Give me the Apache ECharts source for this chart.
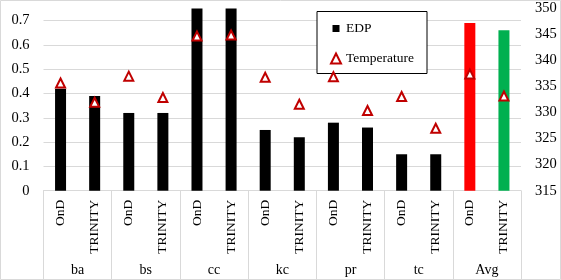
<!DOCTYPE html>
<html>
<head>
<meta charset="utf-8">
<script src="https://cdn.jsdelivr.net/npm/echarts@6/dist/echarts.min.js"></script>
<style>
html,body{margin:0;padding:0;background:#fff;}
#chart{width:561px;height:280px;}
</style>
</head>
<body>
<div id="chart"></div>
<script>
var groups = ['ba', 'bs', 'cc', 'kc', 'pr', 'tc', 'Avg'];
var methods = ['OnD', 'TRINITY'];
var edp = [0.42, 0.39, 0.32, 0.32, 0.85, 0.85, 0.25, 0.22, 0.28, 0.26, 0.15, 0.15, 0.69, 0.66];
var temperature = [335.7, 332.0, 337.0, 332.9, 344.7, 344.9, 336.8, 331.6, 336.9, 330.4, 333.1, 327.0, 337.4, 333.2];
var edpTicks = [0, 0.75, 0.1];
var tempTicks = [315, 350, 5];

var categories = [];
groups.forEach(function (g) { methods.forEach(function (m) { categories.push(m); }); });

var barColors = {Avg: ['#ff0000', '#00b050']};
var edpData = edp.map(function (v, i) {
  var g = groups[Math.floor(i / 2)];
  var c = barColors[g] ? barColors[g][i % 2] : '#000000';
  return {value: v, itemStyle: {color: c}};
});

var FONT = '"Liberation Serif", "Times New Roman", serif';
var chart = echarts.init(document.getElementById('chart'), null, {renderer: 'canvas'});
chart.setOption({
  animation: false,
  backgroundColor: '#ffffff',
  textStyle: {fontFamily: FONT, color: '#000'},
  grid: {left: 43.5, right: 40, top: 8.5, bottom: 89.3, containLabel: false},
  legend: {
    orient: 'vertical',
    left: 317,
    top: 11.5,
    padding: [10, 13, 8, 13],
    itemGap: 16,
    itemWidth: 10,
    itemHeight: 10,
    borderColor: '#000',
    borderWidth: 1,
    backgroundColor: '#fff',
    textStyle: {fontFamily: FONT, fontSize: 13.5, color: '#000'},
    data: [
      {name: 'EDP', icon: 'path://M0,0M10,10M1.5,1.5h7v7h-7z', itemStyle: {color: '#000'}},
      {name: 'Temperature', icon: 'triangle', itemStyle: {color: '#fff', borderColor: '#c00000', borderWidth: 2}}
    ]
  },
  xAxis: [
    {
      type: 'category',
      data: categories,
      position: 'bottom',
      axisLine: {show: true, lineStyle: {color: '#d9d9d9', width: 1}},
      axisTick: {show: false},
      axisLabel: {rotate: 90, fontSize: 13.5, color: '#000', fontFamily: FONT, margin: 9, interval: 0}
    },
    {
      type: 'category',
      data: groups,
      position: 'bottom',
      axisLine: {show: false},
      axisTick: {show: true, length: 89, lineStyle: {color: '#d9d9d9', width: 1}},
      axisLabel: {fontSize: 14, color: '#000', fontFamily: FONT, margin: 73, interval: 0}
    }
  ],
  yAxis: [
    {
      type: 'value',
      min: edpTicks[0], max: edpTicks[1], interval: edpTicks[2],
      axisLine: {show: false},
      axisTick: {show: false},
      axisLabel: {fontSize: 14.5, color: '#000', fontFamily: FONT, margin: 14, showMaxLabel: false},
      splitLine: {show: true, showMaxLine: false, lineStyle: {color: '#d9d9d9', width: 1}}
    },
    {
      type: 'value',
      position: 'right',
      min: tempTicks[0], max: tempTicks[1], interval: tempTicks[2],
      axisLine: {show: false},
      axisTick: {show: false},
      axisLabel: {fontSize: 14.5, color: '#000', fontFamily: FONT, margin: 14},
      splitLine: {show: false}
    }
  ],
  series: [
    {
      name: 'EDP',
      type: 'bar',
      xAxisIndex: 0,
      yAxisIndex: 0,
      barWidth: 11,
      itemStyle: {color: '#000'},
      data: edpData,
      clip: true
    },
    {
      name: 'Temperature',
      type: 'scatter',
      xAxisIndex: 0,
      yAxisIndex: 1,
      symbol: 'triangle',
      symbolSize: 9,
      itemStyle: {color: '#fff', borderColor: '#c00000', borderWidth: 2, opacity: 1},
      z: 5,
      data: temperature
    }
  ],
  graphic: [
    {type: 'rect', shape: {x: 0.5, y: 0.5, width: 560, height: 279}, style: {fill: null, stroke: '#d9d9d9', lineWidth: 1}, silent: true, z: -1}
  ]
});
</script>
</body>
</html>
